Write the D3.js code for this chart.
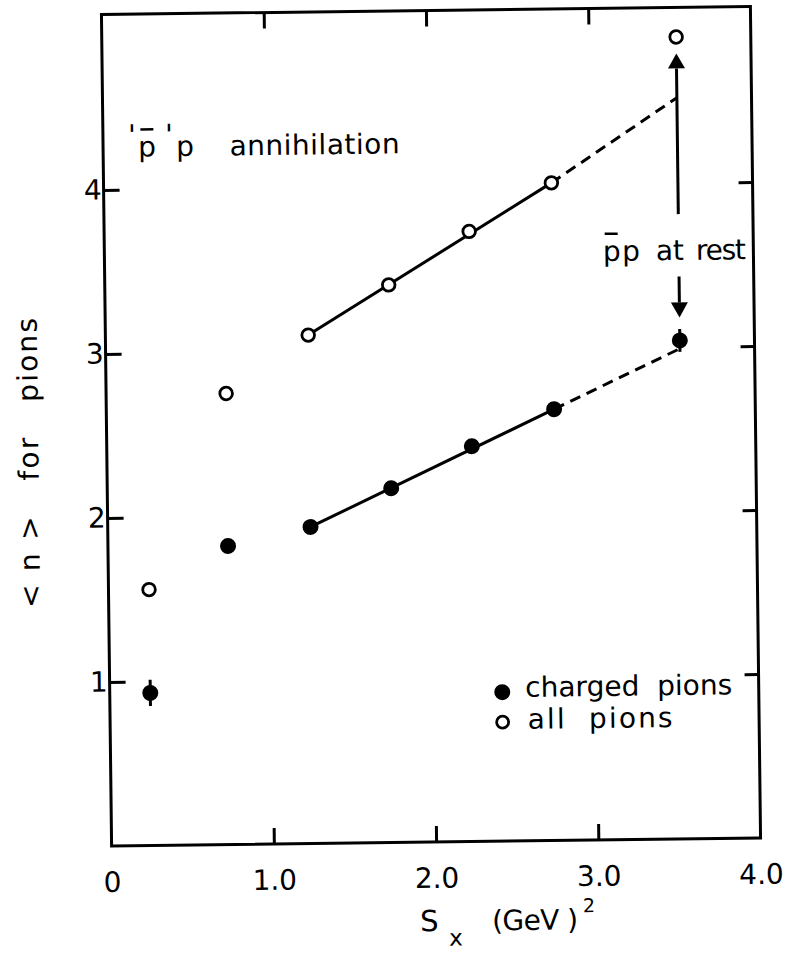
<!DOCTYPE html>
<html><head><meta charset="utf-8">
<script src="https://cdn.jsdelivr.net/npm/d3@7"></script>
<style>
body{margin:0;background:#fff}
svg text{font-family:"DejaVu Sans",sans-serif;fill:#000}
</style>
</head><body>
<svg id="c" width="794" height="958"></svg>
<script>
// ---- data ----
const sx = [0.25, 0.74, 1.25, 1.75, 2.25, 2.76, 3.54];
const allPions = [1.56, 2.75, 3.10, 3.40, 3.72, 4.01, 4.89];
const chargedPions = [0.93, 1.82, 1.93, 2.16, 2.41, 2.63, 3.04];
const chargedErr = [0.08, 0, 0, 0, 0, 0, 0.07];
const allFitSolid = [[1.25, 3.10], [2.76, 4.01]];
const allFitDashed = [[2.76, 4.01], [3.54, 4.52]];
const chargedFitSolid = [[1.25, 1.93], [2.76, 2.63]];
const chargedFitDashed = [[2.76, 2.63], [3.54, 2.99]];
const arrowUp = [3.54, 3.81, 4.79];     // x, from, to
const arrowDown = [3.54, 3.43, 3.18];
const xTicks = [0, 1, 2, 3, 4];
const xTickLabels = ["0", "1.0", "2.0", "3.0", "4.0"];
const yTicks = [1, 2, 3, 4];
const yTickLabels = ["1", "2", "3", "4"];

const svg = d3.select("#c");
const g = svg.append("g").attr("transform", "rotate(-0.7,431,426)");
const x = d3.scaleLinear().domain([0, 4]).range([106.5, 755.5]);
const y = d3.scaleLinear().domain([0, 5.07]).range([842, 10.5]);

function styleAxis(sel) {
  sel.select(".domain").remove();
  sel.selectAll(".tick line").attr("stroke", "#000").attr("stroke-width", 3);
  sel.selectAll(".tick text").attr("font-size", 28).attr("font-family", "DejaVu Sans").attr("fill", "#000");
}
g.append("g").attr("transform", `translate(${x(0)},0)`)
  .call(d3.axisLeft(y).tickValues(yTicks).tickSize(-16).tickPadding(2).tickFormat((d, i) => yTickLabels[i]))
  .call(styleAxis);
g.append("g").attr("transform", `translate(${x(4)},0)`)
  .call(d3.axisRight(y).tickValues(yTicks).tickSize(-14).tickFormat(""))
  .call(styleAxis);
g.append("g").attr("transform", `translate(0,${y(0)})`)
  .call(d3.axisBottom(x).tickValues(xTicks).tickSize(-16).tickPadding(26).tickFormat((d, i) => xTickLabels[i]))
  .call(styleAxis)
  .call(s => s.selectAll(".tick line").filter(d => d === 0 || d === 4).remove());
g.append("g").attr("transform", `translate(0,${y(5.07)})`)
  .call(d3.axisTop(x).tickValues(xTicks.slice(1, 4)).tickSize(-16).tickFormat(""))
  .call(styleAxis);

g.append("rect")
  .attr("x", x(0)).attr("y", y(5.07))
  .attr("width", x(4) - x(0)).attr("height", y(0) - y(5.07))
  .attr("fill", "none").attr("stroke", "#000").attr("stroke-width", 3);

const line = d3.line().x(d => x(d[0])).y(d => y(d[1]));
[[allFitSolid, null], [allFitDashed, "11,7"], [chargedFitSolid, null], [chargedFitDashed, "11,7"]]
  .forEach(([pts, dash]) => {
    g.append("path").attr("d", line(pts)).attr("fill", "none")
      .attr("stroke", "#000").attr("stroke-width", 3)
      .attr("stroke-dasharray", dash);
  });

// error bars on charged pions
g.selectAll(".err").data(sx.map((v, i) => [v, chargedPions[i], chargedErr[i]]).filter(d => d[2] > 0))
  .enter().append("line")
  .attr("x1", d => x(d[0])).attr("x2", d => x(d[0]))
  .attr("y1", d => y(d[1] - d[2])).attr("y2", d => y(d[1] + d[2]))
  .attr("stroke", "#000").attr("stroke-width", 3);

// arrows
function arrow(a) {
  const [ax, from, to] = a;
  const dir = to > from ? -1 : 1;
  const tipY = y(to), baseY = tipY - dir * 15;
  g.append("line").attr("x1", x(ax)).attr("x2", x(ax)).attr("y1", y(from)).attr("y2", baseY)
    .attr("stroke", "#000").attr("stroke-width", 3);
  g.append("path")
    .attr("d", `M${x(ax)},${tipY}L${x(ax) - 8.5},${baseY}L${x(ax) + 8.5},${baseY}Z`)
    .attr("fill", "#000");
}
arrow(arrowUp);
arrow(arrowDown);

// points
g.selectAll(".all").data(sx.map((v, i) => [v, allPions[i]])).enter().append("circle")
  .attr("cx", d => x(d[0])).attr("cy", d => y(d[1])).attr("r", 6.3)
  .attr("fill", "#fff").attr("stroke", "#000").attr("stroke-width", 2.8);
g.selectAll(".chg").data(sx.map((v, i) => [v, chargedPions[i]])).enter().append("circle")
  .attr("cx", d => x(d[0])).attr("cy", d => y(d[1])).attr("r", 8)
  .attr("fill", "#000");

// legend
g.append("circle").attr("cx", 499).attr("cy", 693).attr("r", 8).attr("fill", "#000");
g.append("circle").attr("cx", 499).attr("cy", 723).attr("r", 6).attr("fill", "#fff")
  .attr("stroke", "#000").attr("stroke-width", 2.8);
g.append("text").attr("x", 522).attr("y", 698).attr("font-size", 28)
  .attr("textLength", 207).attr("lengthAdjust", "spacing").attr("xml:space", "preserve")
  .text("charged  pions");
g.append("text").attr("x", 524).attr("y", 730).attr("font-size", 28)
  .attr("textLength", 145).attr("lengthAdjust", "spacing").attr("xml:space", "preserve")
  .text("all  pions");

// title annotation 'p̄'p annihilation
g.append("text").attr("x", 135.5).attr("y", 141).attr("font-size", 28).attr("text-anchor", "middle").text("'");
g.append("text").attr("x", 141.5).attr("y", 153).attr("font-size", 28).text("p");
g.append("line").attr("x1", 144).attr("x2", 157).attr("y1", 126).attr("y2", 126).attr("stroke", "#000").attr("stroke-width", 2.5);
g.append("text").attr("x", 172.5).attr("y", 141).attr("font-size", 28).attr("text-anchor", "middle").text("'");
g.append("text").attr("x", 179.5).attr("y", 153).attr("font-size", 28).text("p");
g.append("text").attr("x", 233).attr("y", 153).attr("font-size", 28)
  .attr("textLength", 170).attr("lengthAdjust", "spacing").text("annihilation");

// p̄p at rest
g.append("text").attr("x", 605).attr("y", 263).attr("font-size", 28)
  .attr("textLength", 37).attr("lengthAdjust", "spacing").text("pp");
g.append("line").attr("x1", 607).attr("x2", 620).attr("y1", 236).attr("y2", 236).attr("stroke", "#000").attr("stroke-width", 2.5);
g.append("text").attr("x", 658).attr("y", 263).attr("font-size", 28)
  .attr("textLength", 28).attr("lengthAdjust", "spacing").text("at");
g.append("text").attr("x", 698).attr("y", 263).attr("font-size", 28)
  .attr("textLength", 50).attr("lengthAdjust", "spacing").text("rest");

// axis titles
g.append("text").attr("transform", "translate(38,458) rotate(-90)")
  .attr("text-anchor", "middle").attr("font-size", 28)
  .attr("textLength", 290).attr("lengthAdjust", "spacing").attr("xml:space", "preserve")
  .text("< n >   for   pions");
g.append("text").attr("x", 414).attr("y", 931).attr("font-size", 29).text("S");
g.append("text").attr("x", 443).attr("y", 946).attr("font-size", 23).text("x");
g.append("text").attr("x", 486).attr("y", 931).attr("font-size", 28)
  .attr("textLength", 86).attr("lengthAdjust", "spacing").attr("xml:space", "preserve").text("(GeV )");
g.append("text").attr("x", 577).attr("y", 914).attr("font-size", 19).text("2");
</script>
</body></html>
